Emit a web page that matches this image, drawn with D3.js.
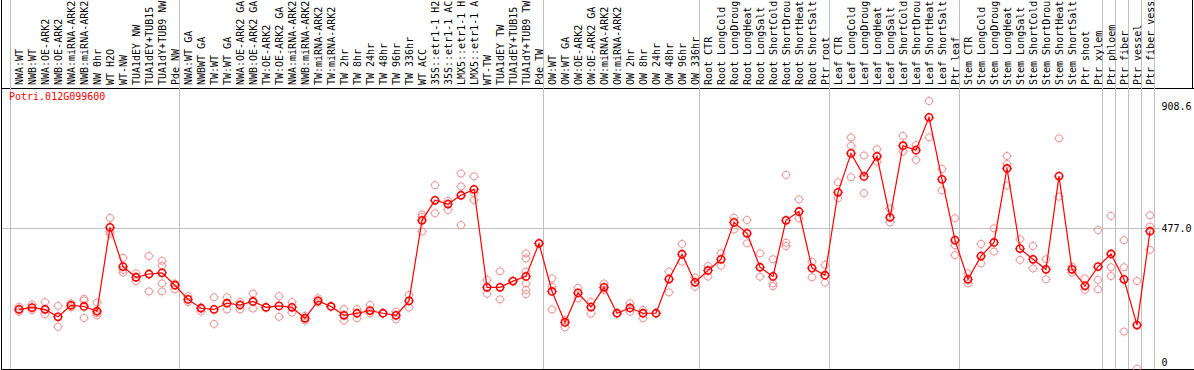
<!DOCTYPE html>
<html>
<head>
<meta charset="utf-8">
<script src="https://cdn.jsdelivr.net/npm/d3@7"></script>
<style>
	body { margin: 0; background: #fff; }
	svg { display: block; }
	text { font-family: "DejaVu Sans Mono", "Liberation Mono", monospace; font-size: 10px; }
</style>
</head>
<body>
<div id="chart"></div>
<script>
// sample labels, one per column
var labels = [
	"NWA:WT", "NWB:WT", "NWA:OE-ARK2", "NWB:OE-ARK2", "NWA:miRNA-ARK2", "NWB:miRNA-ARK2", "NW 0hr", "WT H2O", "WT-NW",
	"TUA1dEY NW", "TUA1dEY+TUB15 NW", "TUA1dY+TUB9 NW", "Pde NW",
	"NWA:WT GA", "NWBWT GA", "TW:WT", "TW:WT GA", "NWA:OE-ARK2 GA", "NWB:OE-ARK2 GA", "TW:OE-ARK2", "TW:OE-ARK2 GA",
	"NWA:miRNA-ARK2 GA", "NWB:miRNA-ARK2 GA", "TW:miRNA-ARK2", "TW:miRNA-ARK2 GA", "TW 2hr", "TW 8hr", "TW 24hr", "TW 48hr",
	"TW 96hr", "TW 336hr", "WT ACC", "35S::etr1-1 H2O", "35S::etr1-1 ACC", "LMX5::etr1-1 H2O", "LMX5::etr1-1 ACC", "WT-TW",
	"TUA1dEY TW", "TUA1dEY+TUB15 TW", "TUA1dY+TUB9 TW", "Pde TW",
	"OW:WT", "OW:WT GA", "OW:OE-ARK2", "OW:OE-ARK2 GA", "OW:miRNA-ARK2", "OW:miRNA-ARK2 GA", "OW 2hr", "OW 8hr", "OW 24hr",
	"OW 48hr", "OW 96hr", "OW 336hr",
	"Root CTR", "Root LongCold", "Root LongDrought", "Root LongHeat", "Root LongSalt", "Root ShortCold", "Root ShortDrought",
	"Root ShortHeat", "Root ShortSalt", "Ptr root",
	"Leaf CTR", "Leaf LongCold", "Leaf LongDrought", "Leaf LongHeat", "Leaf LongSalt", "Leaf ShortCold", "Leaf ShortDrought",
	"Leaf ShortHeat", "Leaf ShortSalt", "Ptr leaf",
	"Stem CTR", "Stem LongCold", "Stem LongDrought", "Stem LongHeat", "Stem LongSalt", "Stem ShortCold", "Stem ShortDrought",
	"Stem ShortHeat", "Stem ShortSalt", "Ptr shoot", "Ptr xylem",
	"Ptr phloem", "Ptr fiber", "Ptr vessel", "Ptr fiber vessel"
];

// first column of each experiment block (last entry closes the final block)
var groupStarts = [0, 13, 41, 53, 63, 73, 84, 85, 86, 87, 88];

var geneName = "Potri.012G099600";

// mean expression per column
var means = [
	202, 208, 202, 177, 216, 212, 196, 480, 347, 311, 322, 326, 284,
	236, 206, 202, 223, 217, 229, 209, 214, 209, 172, 231, 212, 182, 189, 198, 189, 182, 231,
	504, 572, 559, 589, 609, 277, 277, 298, 314, 426,
	263, 158, 258, 210, 277, 189, 207, 189, 189, 305, 389, 294,
	334, 372, 497, 460, 345, 314, 504, 534, 342, 318,
	599, 731, 653, 721, 514, 757, 742, 853, 643, 437,
	304, 383, 429, 680, 408, 372, 338, 654, 338, 282, 347,
	390, 304, 149, 467
];

// single replicates per column
var reps = [
	[211, 202, 194], [219, 200], [227, 186, 202], [214, 143], [223, 209], [238, 232, 173], [225, 182, 189],
	[512, 466, 458], [377, 336, 327], [324, 297], [383, 263], [367, 350, 290, 263], [290, 270],
	[247, 227], [209, 195], [243, 153], [243, 202], [227, 202], [256, 205], [209], [247, 177], [227, 191],
	[180, 164], [240, 225], [212], [203, 164], [203, 172], [217, 189], [189], [194, 168], [251, 208],
	[524, 516, 466], [623, 528], [570, 540], [663, 619, 488], [653, 597, 573], [302, 255], [331, 236],
	[298], [392, 375, 330, 290, 268, 254], [426],
	[307, 279, 202], [166, 141], [275, 240], [227, 188], [290, 268], [189], [223, 194], [200, 172], [189],
	[330, 260], [424, 364], [310, 279],
	[349, 313], [392, 350], [513, 473], [505, 426], [392, 313], [372, 290, 281], [658, 428, 417],
	[575, 511], [364, 311], [353, 293],
	[633, 579], [785, 757, 650], [724, 596], [745, 703], [544, 497], [790, 737], [759, 709],
	[908.6, 785], [678, 605], [511, 420, 386],
	[324, 290], [424, 358], [477, 398], [722, 695, 622], [440, 370], [417, 341], [372, 304],
	[782, 584], [347, 327], [307, 268], [471, 302, 270],
	[519, 345, 315], [437, 345, 127], [298, 1], [521, 483, 404]
];

// value ticks on the right side
var tickValues = [0, 477.0, 908.6];
var tickLabels = ["0", "477.0", "908.6"];
var gridValues = [477.0];

var width = 1194, height = 370;
var labelBottom = 88;
var plotBottom = 369;
var step = 13;
var maxChars = 14; // the label strip only has room for this many

var svg = d3.select("#chart").append("svg")
	.attr("width", width)
	.attr("height", height);

var x = d3.scaleBand()
	.domain(d3.range(labels.length))
	.range([10.5, 10.5 + step * labels.length]);

var px = function(i){ return x(i) + 8.5; };

var y = d3.scaleLinear()
	.domain([0, d3.max(reps, function(r){ return d3.max(r); })])
	.range([plotBottom, 101]);

var plotRight = x.range()[1];

// frame
svg.append("line")
	.attr("x1", 1.5).attr("x2", 1.5)
	.attr("y1", 0).attr("y2", plotBottom)
	.attr("stroke", "#000");

svg.append("line")
	.attr("x1", 1).attr("x2", width)
	.attr("y1", labelBottom + 0.5).attr("y2", labelBottom + 0.5)
	.attr("stroke", "#000");

svg.append("line")
	.attr("x1", width - 1.5).attr("x2", width - 1.5)
	.attr("y1", 0).attr("y2", labelBottom)
	.attr("stroke", "#000");

svg.append("line")
	.attr("x1", 1).attr("x2", width)
	.attr("y1", plotBottom + 0.5).attr("y2", plotBottom + 0.5)
	.attr("stroke", "#000");

// block separators
svg.append("g")
		.attr("class", "groups")
		.selectAll("line")
		.data(groupStarts)
	.enter().append("line")
		.attr("x1", function(g){ return x.range()[0] + step * g; })
		.attr("x2", function(g){ return x.range()[0] + step * g; })
		.attr("y1", 0)
		.attr("y2", plotBottom)
		.attr("stroke", "#c0c0c0");

svg.append("g")
		.attr("class", "grid")
		.selectAll("line")
		.data(gridValues)
	.enter().append("line")
		.attr("x1", 2)
		.attr("x2", plotRight + 5)
		.attr("y1", function(v){ return Math.round(y(v)) + 0.5; })
		.attr("y2", function(v){ return Math.round(y(v)) + 0.5; })
		.attr("stroke", "#c0c0c0");

// column labels
svg.append("g")
		.attr("class", "labels")
		.selectAll("text")
		.data(labels)
	.enter().append("text")
		.attr("transform", function(d, i){ return "translate(" + (px(i) + 4) + "," + (labelBottom - 3) + ") rotate(-90)"; })
		.attr("fill", "#000")
		.text(function(d){ return d.length > maxChars ? d.slice(0, maxChars).trim() : d; });

// value labels
svg.append("g")
		.attr("class", "ticks")
		.selectAll("text")
		.data(tickValues)
	.enter().append("text")
		.attr("x", plotRight + 7)
		.attr("y", function(v){ return Math.max(labelBottom + 18, Math.min(plotBottom - 7, y(v))); })
		.attr("dy", "0.35em")
		.attr("fill", "#000")
		.text(function(v, i){ return tickLabels[i]; });

svg.append("text")
	.attr("x", 9)
	.attr("y", labelBottom + 12)
	.attr("fill", "#ff0000")
	.text(geneName);

var marker = function(sel, color, sw){
	sel.append("circle")
		.attr("r", 3.6)
		.attr("fill", "none")
		.attr("stroke", color)
		.attr("stroke-width", sw);
	sel.append("path")
		.attr("d", "M0,-5V-4M0,4V5M-5,0H-4M4,0H5")
		.attr("stroke", color)
		.attr("stroke-width", 0.8);
};

// replicates
var repPoints = [];
reps.forEach(function(r, i){
	r.forEach(function(v){ repPoints.push({ col: i, value: v }); });
});

svg.append("g")
		.attr("class", "reps")
		.selectAll("g")
		.data(repPoints)
	.enter().append("g")
		.attr("transform", function(d){ return "translate(" + px(d.col) + "," + y(d.value) + ")"; })
		.call(marker, "#ee9494", 1);

var line = d3.line()
	.x(function(d, i){ return px(i); })
	.y(function(d){ return y(d); });

svg.append("path")
	.datum(means)
	.attr("d", line)
	.attr("fill", "none")
	.attr("stroke", "#ff0000")
	.attr("stroke-width", 1.2);

svg.append("g")
		.attr("class", "means")
		.selectAll("g")
		.data(means)
	.enter().append("g")
		.attr("transform", function(d, i){ return "translate(" + px(i) + "," + y(d) + ")"; })
		.call(marker, "#ff0000", 1.6);
</script>
</body>
</html>
